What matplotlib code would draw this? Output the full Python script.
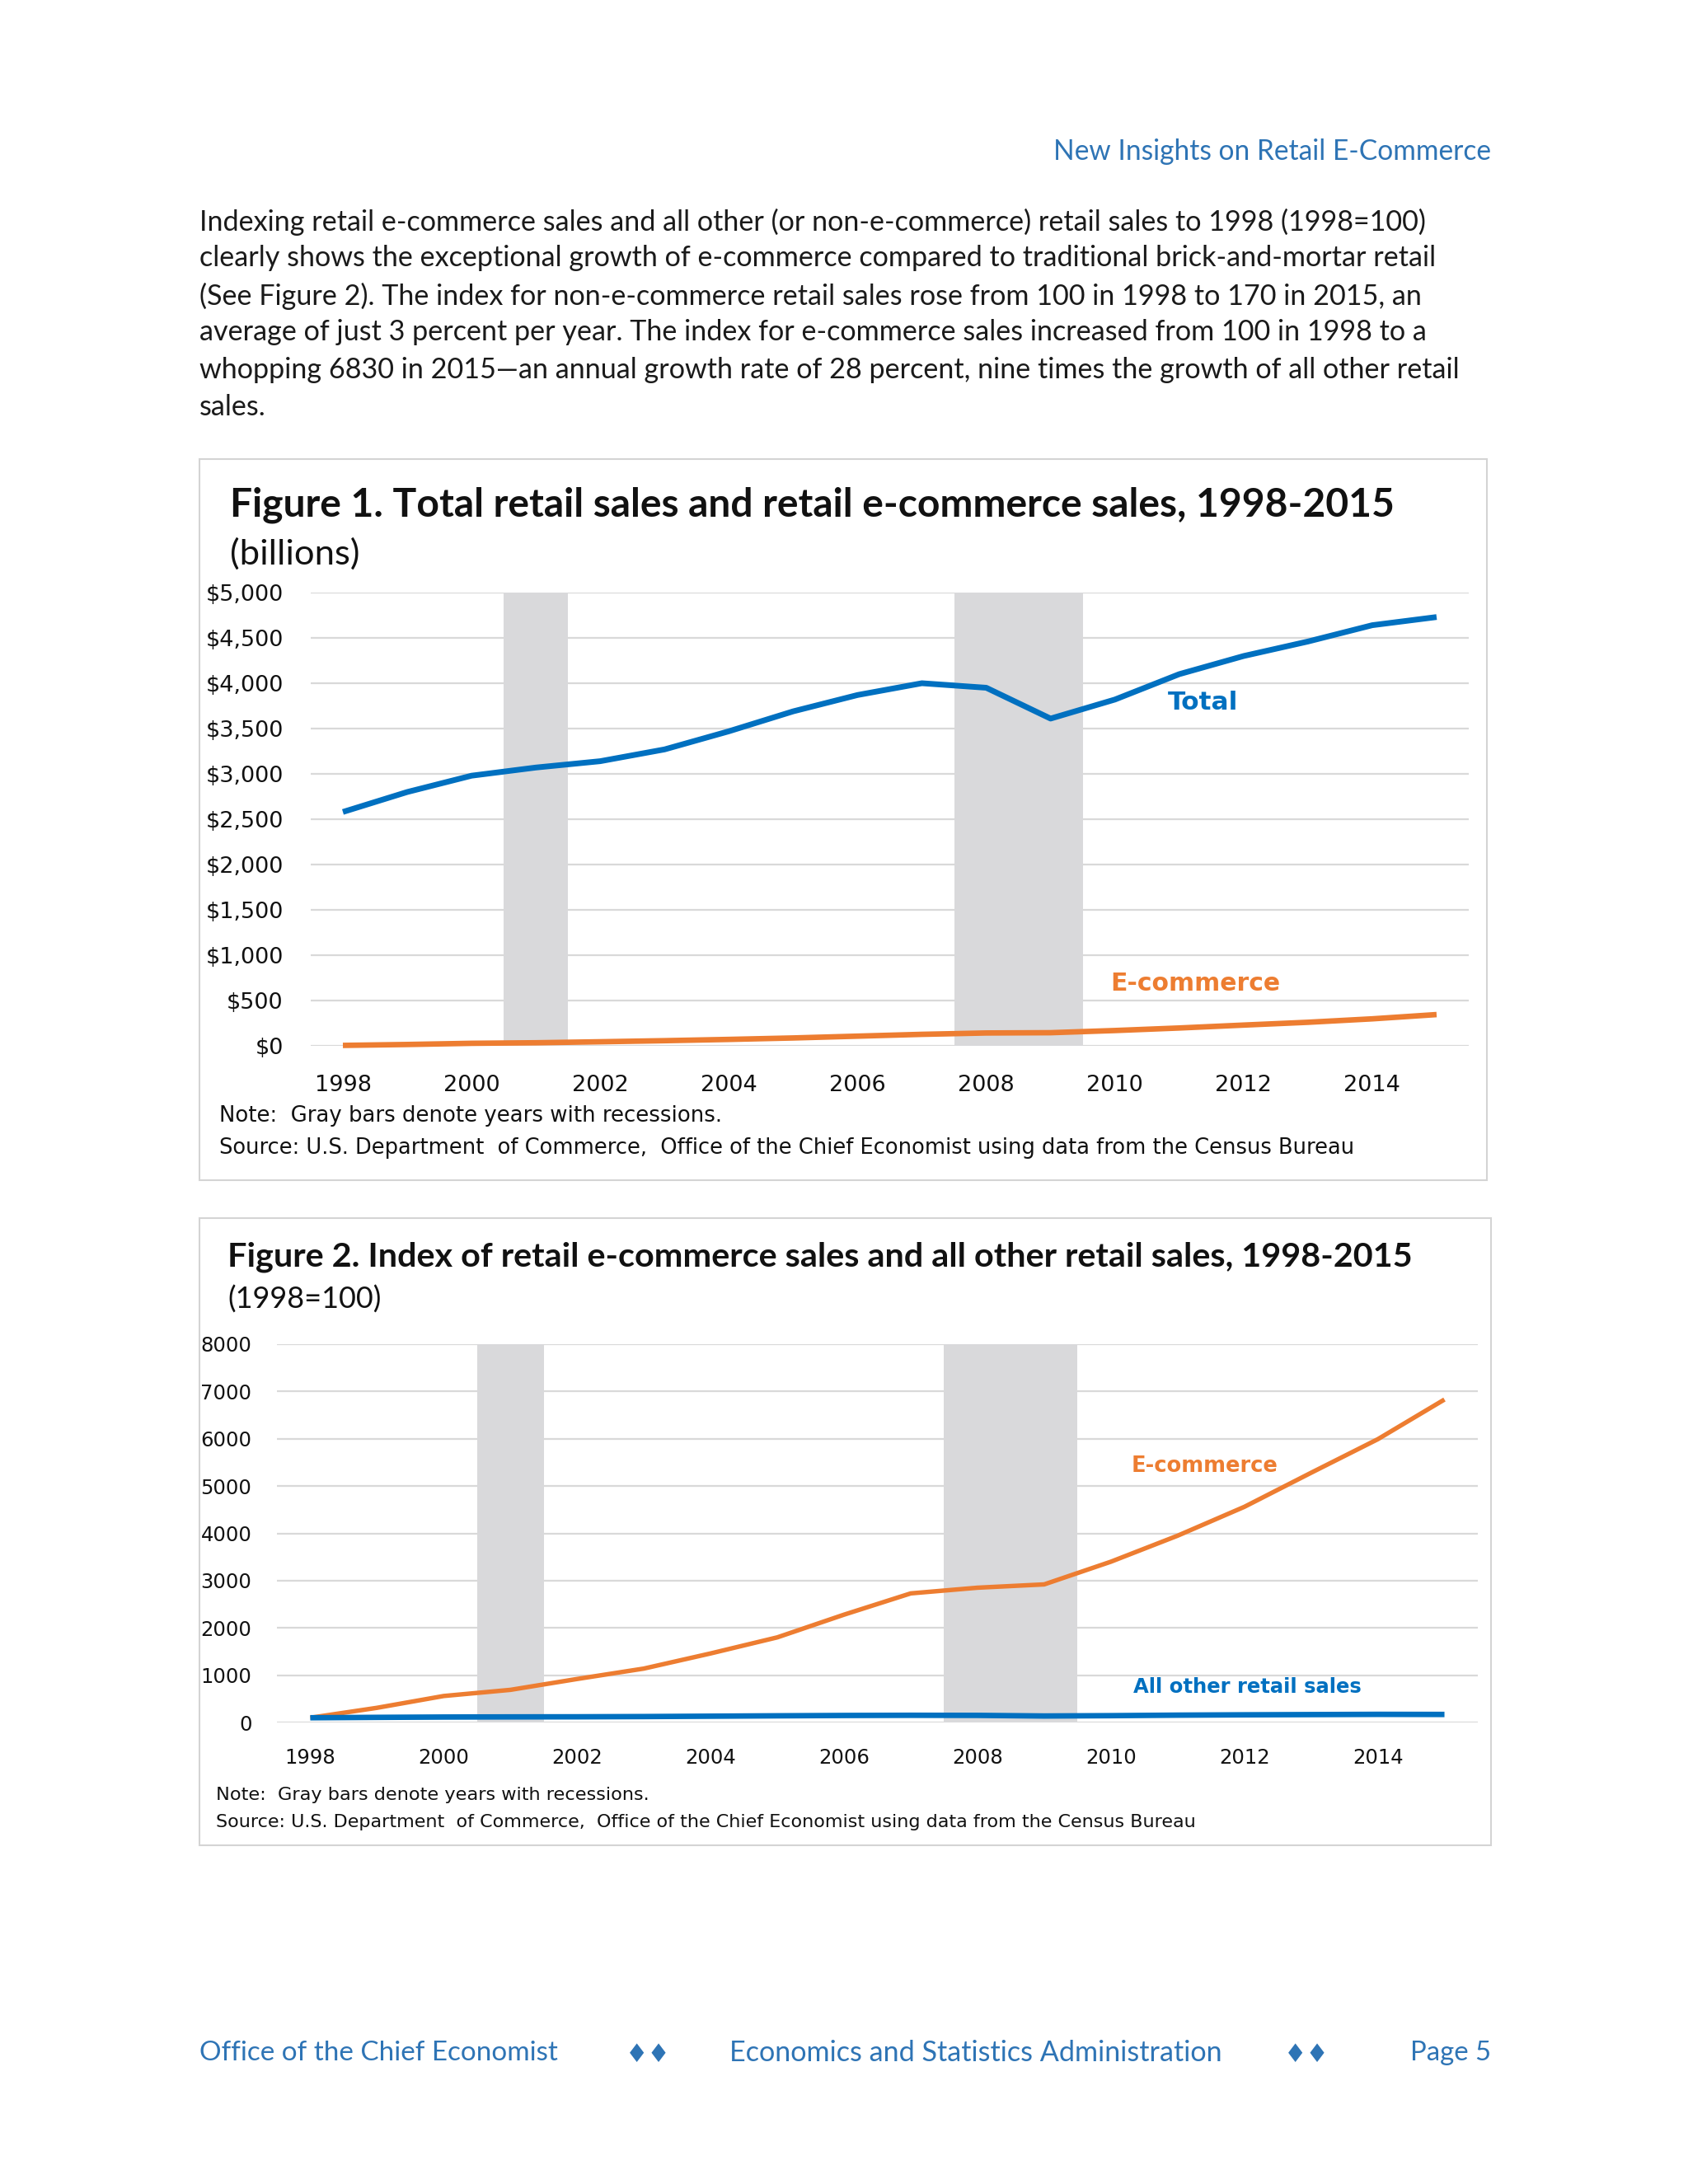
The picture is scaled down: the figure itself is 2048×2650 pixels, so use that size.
import matplotlib
matplotlib.use("Agg")
import matplotlib.pyplot as plt
from matplotlib.patches import Rectangle

# data
years = list(range(1998, 2016))
total_sales = [2580, 2800, 2980, 3070, 3140, 3270, 3470, 3690, 3870, 4000,
               3950, 3610, 3820, 4100, 4300, 4460, 4640, 4730]
ecommerce_sales = [5, 15, 28, 34, 45, 57, 71, 87, 107, 127,
                   142, 145, 169, 197, 229, 260, 298, 345]
ecommerce_index = [100, 310, 560, 690, 920, 1140, 1460, 1800, 2280, 2730,
                   2850, 2920, 3400, 3950, 4560, 5280, 5990, 6830]
other_index = [100, 108, 115, 118, 120, 125, 133, 141, 148, 152,
               150, 137, 144, 155, 162, 167, 172, 170]
recessions = [(2001, 2001), (2008, 2009)]
year_ticks = list(range(1998, 2016, 2))
sales_ticks = list(range(0, 5001, 500))
index_ticks = list(range(0, 8001, 1000))

body_lines = [
    "Indexing retail e-commerce sales and all other (or non-e-commerce) retail sales to 1998 (1998=100)",
    "clearly shows the exceptional growth of e-commerce compared to traditional brick-and-mortar retail",
    "(See Figure 2). The index for non-e-commerce retail sales rose from 100 in 1998 to 170 in 2015, an",
    "average of just 3 percent per year. The index for e-commerce sales increased from 100 in 1998 to a",
    "whopping 6830 in 2015\u2014an annual growth rate of 28 percent, nine times the growth of all other retail",
    "sales.",
]

BLUE = "#0070C0"
ORANGE = "#ED7D31"
HEAD = "#2E74B5"
GRAY = "#D9D9DB"
GRID = "#D9D9D9"
W, H = 2048, 2650
BODY = "Lato"
CHART = "DejaVu Sans"

fig = plt.figure(figsize=(W / 100, H / 100), dpi=100)
fig.patch.set_facecolor("white")
renderer = fig.canvas.get_renderer()


def fx(x):
    return x / W


def fy(y):
    return 1 - y / H


def ftext(x, y, s, width=None, size=20, **kw):
    t = fig.text(fx(x), fy(y), s, fontsize=size, va="center", **kw)
    if width:
        bb = t.get_window_extent(renderer)
        t.set_fontsize(size * width / bb.width)
    return t


def box(x0, y0, x1, y1):
    fig.patches.append(Rectangle((fx(x0), fy(y1)), fx(x1 - x0), (y1 - y0) / H,
                                 transform=fig.transFigure, fill=False,
                                 edgecolor="#D4D4D4", lw=1.5))


def make_axes(x0, y0, x1, y1):
    ax = fig.add_axes([fx(x0), fy(y1), fx(x1 - x0), (y1 - y0) / H])
    for s in ax.spines.values():
        s.set_visible(False)
    ax.tick_params(length=0)
    ax.grid(axis="y", color=GRID, lw=1.6, zorder=0)
    ax.set_axisbelow(True)
    ax.set_xlim(1997.5, 2015.5)
    for a, b in recessions:
        ax.axvspan(a - 0.5, b + 0.5, color=GRAY, lw=0, zorder=1)
    return ax


# header and body text
ftext(1809, 184, "New Insights on Retail E-Commerce", width=531, family=BODY,
      color=HEAD, ha="right")
t = ftext(242, 449, body_lines[4], width=1533, family=BODY, color="#1a1a1a")
body_size = t.get_fontsize()
line_y = [269, 313, 359, 403, 449, 494]
for i, line in enumerate(body_lines):
    if i == 4:
        continue
    ftext(242, line_y[i], line, size=body_size, family=BODY, color="#1a1a1a")

# figure 1
box(242, 557, 1804, 1432)
ftext(279, 613, "Figure 1. Total retail sales and retail e-commerce sales, 1998-2015",
      width=1414, family=BODY, weight="bold", color="#111111")
ftext(279, 672, "(billions)", width=157, family=BODY, color="#111111")
ax1 = make_axes(377, 719, 1782, 1269)
ax1.set_ylim(0, 5000)
ax1.plot(years, total_sales, color=BLUE, lw=5, zorder=3, solid_capstyle="butt",
         solid_joinstyle="round")
ax1.plot(years, ecommerce_sales, color=ORANGE, lw=4.8, zorder=3,
         solid_capstyle="butt", clip_on=False)
ax1.set_yticks(sales_ticks)
ax1.set_yticklabels(["${:,}".format(v) for v in sales_ticks])
ax1.set_xticks(year_ticks)
ax1.tick_params(axis="y", pad=24, labelsize=19.5, labelcolor="#111111")
ax1.tick_params(axis="x", pad=25, labelsize=19.5, labelcolor="#111111")
for lab in ax1.get_xticklabels() + ax1.get_yticklabels():
    lab.set_family(CHART)
ax1.text(2010.82, 3790, "Total", color=BLUE, fontsize=22.5, weight="bold",
         family=CHART, va="center", ha="left")
ax1.text(2011.25, 690, "E-commerce", color=ORANGE, fontsize=21.5, weight="bold",
         family=CHART, va="center", ha="center")
ftext(266, 1354, "Note:  Gray bars denote years with recessions.", width=609,
      family=CHART, color="#111111")
ftext(266, 1393, "Source: U.S. Department  of Commerce,  Office of the Chief Economist using data from the Census Bureau",
      width=1376, family=CHART, color="#111111")

# figure 2
box(242, 1478, 1809, 2239)
ftext(276, 1525, "Figure 2. Index of retail e-commerce sales and all other retail sales, 1998-2015",
      width=1440, family=BODY, weight="bold", color="#111111")
ftext(276, 1577, "(1998=100)", width=186, family=BODY, color="#111111")
ax2 = make_axes(336, 1631, 1793, 2090)
ax2.set_ylim(0, 8000)
ax2.plot(years, ecommerce_index, color=ORANGE, lw=3.9, zorder=3,
         solid_capstyle="butt")
ax2.plot(years, other_index, color=BLUE, lw=4.8, zorder=3,
         solid_capstyle="butt", clip_on=False)
ax2.set_yticks(index_ticks)
ax2.set_xticks(year_ticks)
ax2.tick_params(axis="y", pad=22, labelsize=17.5, labelcolor="#111111")
ax2.tick_params(axis="x", pad=22, labelsize=17.5, labelcolor="#111111")
for lab in ax2.get_xticklabels() + ax2.get_yticklabels():
    lab.set_family(CHART)
ax2.text(2011.4, 5420, "E-commerce", color=ORANGE, fontsize=18.5, weight="bold",
         family=CHART, va="center", ha="center")
ax2.text(2010.34, 750, "All other retail sales", color=BLUE, fontsize=17.5,
         weight="bold", family=CHART, va="center", ha="left")
ftext(262, 2178, "Note:  Gray bars denote years with recessions.", width=525,
      family=CHART, color="#111111")
ftext(262, 2211, "Source: U.S. Department  of Commerce,  Office of the Chief Economist using data from the Census Bureau",
      width=1185, family=CHART, color="#111111")

# footer
ftext(242, 2491, "Office of the Chief Economist", width=435, family=BODY, color=HEAD)
ftext(786, 2493, "\u2666\u2666", size=22, family="DejaVu Sans", color=HEAD, ha="center")
ftext(885, 2491, "Economics and Statistics Administration", width=598, family=BODY,
      color=HEAD)
ftext(1585, 2493, "\u2666\u2666", size=22, family="DejaVu Sans", color=HEAD, ha="center")
ftext(1809, 2491, "Page 5", width=98, family=BODY, color=HEAD, ha="right")

fig.savefig("out.png", dpi=100, facecolor="white")
